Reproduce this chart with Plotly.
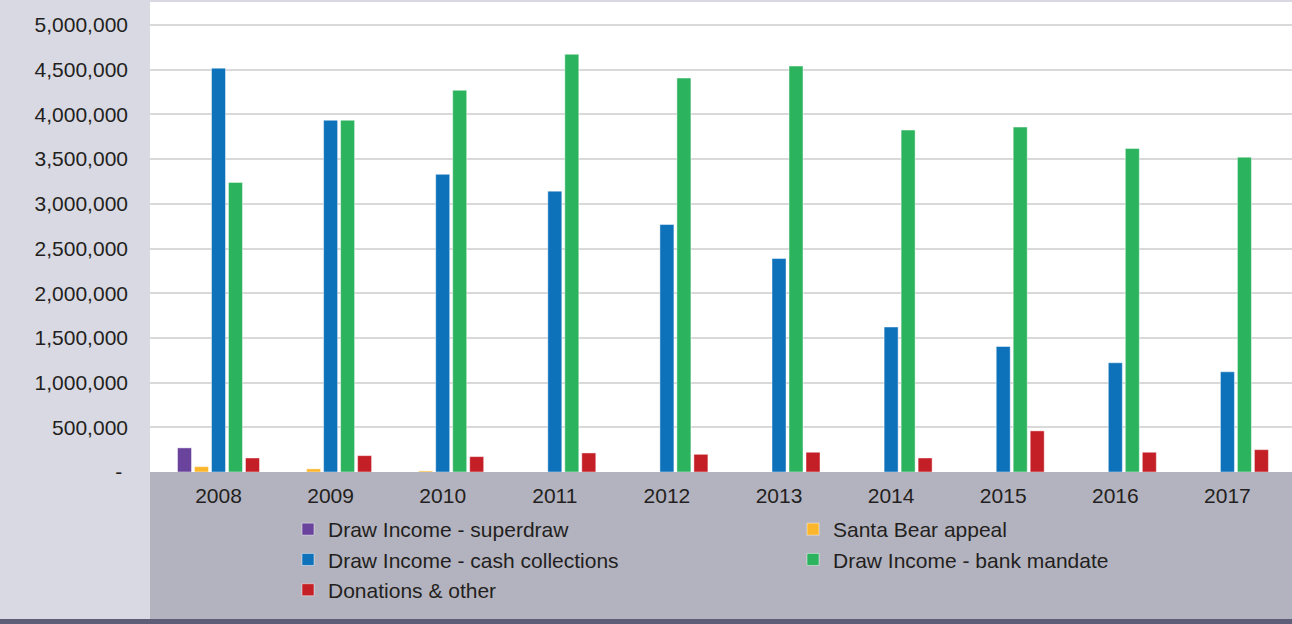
import plotly.graph_objects as go

years = ["2008", "2009", "2010", "2011", "2012", "2013", "2014", "2015", "2016", "2017"]
superdraw = [270000, 0, 0, 0, 0, 0, 0, 0, 0, 0]
santa_bear = [60000, 35000, 12000, 0, 0, 0, 0, 0, 0, 0]
cash_collections = [4518000, 3935000, 3330000, 3142000, 2769000, 2388000, 1622000, 1404000, 1222000, 1121000]
bank_mandate = [3240000, 3935000, 4270000, 4673000, 4407000, 4541000, 3825000, 3859000, 3619000, 3522000]
donations = [157000, 183000, 172000, 213000, 198000, 221000, 157000, 460000, 221000, 250000]

y_tickvals = [0, 500000, 1000000, 1500000, 2000000, 2500000, 3000000, 3500000, 4000000, 4500000, 5000000]
y_ticktext = ["-\u00a0"] + [f"{v:,}" for v in y_tickvals[1:]]

FONT = "Liberation Sans, Arial, Helvetica, sans-serif"
TXT = "#231f20"
FS = 21
OUTLINE = dict(color="rgba(255,255,255,0.45)", width=1)

series = [
    ("Draw Income - superdraw", superdraw, "#6a449c", "legend"),
    ("Santa Bear appeal", santa_bear, "#fbb62c", "legend2"),
    ("Draw Income - cash collections", cash_collections, "#0e72bb", "legend"),
    ("Draw Income - bank mandate", bank_mandate, "#2cb35e", "legend2"),
    ("Donations & other", donations, "#c41f26", "legend"),
]

fig = go.Figure()
for name, vals, col, lg in series:
    fig.add_trace(go.Bar(x=years, y=vals, name=name, marker=dict(color=col, line=OUTLINE), legend=lg))

W, H = 1292, 624
ml, mt, mb = 150, 2, 152
pw = W - ml
ph = H - mt - mb

def py(pix):
    # pixel y -> paper y
    return (H - mb - pix) / ph

fig.update_layout(
    width=W, height=H,
    margin=dict(l=ml, r=0, t=mt, b=mb, pad=0),
    paper_bgcolor="#d9d9e3",
    plot_bgcolor="#ffffff",
    barmode="group",
    bargap=0.242,
    bargroupgap=0.176,
    font=dict(family=FONT, size=FS, color=TXT),
    xaxis=dict(
        type="category", range=[-0.611, 9.576], showgrid=False, zeroline=False,
        showline=False, ticks="", ticklabelstandoff=9, tickfont=dict(size=FS, color=TXT),
    ),
    yaxis=dict(
        range=[0, 5258000], tickvals=y_tickvals, ticktext=y_ticktext,
        showgrid=True, gridcolor="#d9d9d9", gridwidth=1.5, zeroline=False,
        showline=False, ticks="", ticklabelstandoff=21, tickfont=dict(size=FS, color=TXT),
    ),
    legend=dict(
        x=(288 - ml) / pw, xanchor="left", y=py(509), yanchor="top",
        orientation="v", bgcolor="rgba(0,0,0,0)", font=dict(size=FS, color=TXT),
        traceorder="normal",
    ),
    legend2=dict(
        x=(793 - ml) / pw, xanchor="left", y=py(509), yanchor="top",
        orientation="v", bgcolor="rgba(0,0,0,0)", font=dict(size=FS, color=TXT),
        traceorder="normal",
    ),
    shapes=[
        dict(type="rect", xref="paper", yref="paper", x0=0, x1=1.05, y0=py(640), y1=0,
             fillcolor="#b3b3bf", line=dict(width=0), layer="below"),
        dict(type="rect", xref="paper", yref="paper", x0=-0.2, x1=1.05, y0=py(630), y1=py(619),
             fillcolor="#5e5e78", line=dict(width=0), layer="above"),
        dict(type="rect", xref="paper", yref="paper", x0=-0.2, x1=1.05, y0=py(0), y1=py(-10),
             fillcolor="#5e5e78", line=dict(width=0), layer="above"),
    ],
)

fig.write_html("out.html")
